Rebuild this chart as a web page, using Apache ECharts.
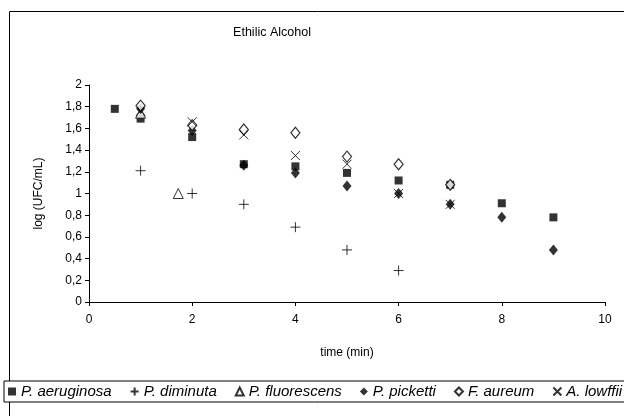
<!DOCTYPE html>
<html>
<head>
<meta charset="utf-8">
<script src="https://cdn.jsdelivr.net/npm/echarts@6/dist/echarts.min.js"></script>
<style>
  html, body { margin: 0; padding: 0; background: #fff; }
  #myChart { width: 624px; height: 416px; }
</style>
</head>
<body>
<div id="myChart"></div>
<script>
  // values, [time (min), log (UFC/mL)]
  var aeruginosa = [[0.5,1.78],[1,1.69],[2,1.52],[3,1.27],[4,1.25],[5,1.19],[6,1.12],[7,1.08],[8,0.91],[9,0.78]];
  var diminuta = [[1,1.21],[2,1.0],[3,0.9],[4,0.69],[5,0.48],[6,0.29]];
  var fluorescens = [[1,1.74],[1.73,1.0]];
  var picketti = [[1,1.78],[2,1.58],[3,1.26],[4,1.19],[5,1.07],[6,1.0],[7,0.9],[8,0.78],[9,0.48]];
  var aureum = [[1,1.81],[2,1.63],[3,1.59],[4,1.56],[5,1.34],[6,1.27],[7,1.08]];
  var lowffi = [[1,1.76],[2,1.66],[3,1.54],[4,1.35],[5,1.27],[6,1.0],[7,0.9]];
  var names = ['P. aeruginosa', 'P. diminuta', 'P. fluorescens', 'P. picketti', 'F. aureum', 'A. lowffii'];

  var PLUS = 'path://M0,5L10,5M5,0L5,10';
  var CROSS = 'path://M0,0L10,10M10,0L0,10';

  var myChart = echarts.init(document.getElementById('myChart'));
  var font = 'Liberation Sans, Arial, sans-serif';

  function sc(name, data, symbol, size, style) {
    return { name: name, type: 'scatter', data: data, symbol: symbol, symbolSize: size,
             itemStyle: style, emphasis: { disabled: true }, animation: false };
  }

  var option = {
    backgroundColor: '#fff',
    textStyle: { fontFamily: font, color: '#000' },
    title: {
      text: 'Ethilic Alcohol', left: 267, top: 21, textAlign: 'center',
      textStyle: { fontSize: 12.5, fontWeight: 'normal', color: '#000', fontFamily: font }
    },
    graphic: [{
      type: 'rect', left: 7, top: 9, z: -1,
      shape: { width: 700, height: 500 },
      style: { fill: 'none', stroke: '#000', lineWidth: 1 }
    }],
    legend: {
      data: names, left: 4, top: 381, width: 1200, padding: [3, 6, 3, 4],
      borderColor: '#000', borderWidth: 1, backgroundColor: '#fff',
      itemWidth: 8, itemHeight: 8, itemGap: 18,
      textStyle: { fontSize: 15, fontStyle: 'italic', color: '#000', fontFamily: font }
    },
    grid: { left: 89, right: 19, top: 85, bottom: 114, containLabel: false },
    xAxis: {
      type: 'value', min: 0, max: 10, interval: 2,
      name: 'time (min)', nameLocation: 'middle', nameGap: 45,
      nameTextStyle: { fontSize: 12, color: '#000', fontFamily: font },
      axisLine: { show: true, lineStyle: { color: '#000', width: 1 } },
      axisTick: { show: true, inside: false, length: 4, lineStyle: { color: '#000' } },
      axisLabel: { fontSize: 12, color: '#000', margin: 12, fontFamily: font },
      splitLine: { show: false }
    },
    yAxis: {
      type: 'value', min: 0, max: 2, interval: 0.2,
      name: 'log (UFC/mL)', nameLocation: 'middle', nameGap: 44, nameRotate: 90,
      nameTextStyle: { fontSize: 12, color: '#000', fontFamily: font },
      axisLine: { show: true, lineStyle: { color: '#000', width: 1 } },
      axisTick: { show: true, inside: false, length: 4, lineStyle: { color: '#000' } },
      axisLabel: { fontSize: 12, color: '#000', margin: 7, fontFamily: font,
        formatter: function (v) { return String(Math.round(v * 10) / 10).replace('.', ','); } },
      splitLine: { show: false }
    },
    series: [
      sc(names[0], aeruginosa, 'rect', 8, { color: '#000' }),
      sc(names[1], diminuta, PLUS, 10, { color: '#000', borderColor: '#000', borderWidth: 1 }),
      sc(names[2], fluorescens, 'triangle', 10, { color: '#fff', borderColor: '#000', borderWidth: 1 }),
      sc(names[3], picketti, 'diamond', [9, 11], { color: '#000' }),
      sc(names[4], aureum, 'diamond', [9, 11], { color: '#fff', borderColor: '#000', borderWidth: 1.2 }),
      sc(names[5], lowffi, CROSS, 9, { color: '#000', borderColor: '#000', borderWidth: 1 })
    ]
  };
  myChart.setOption(option);
</script>
</body>
</html>
